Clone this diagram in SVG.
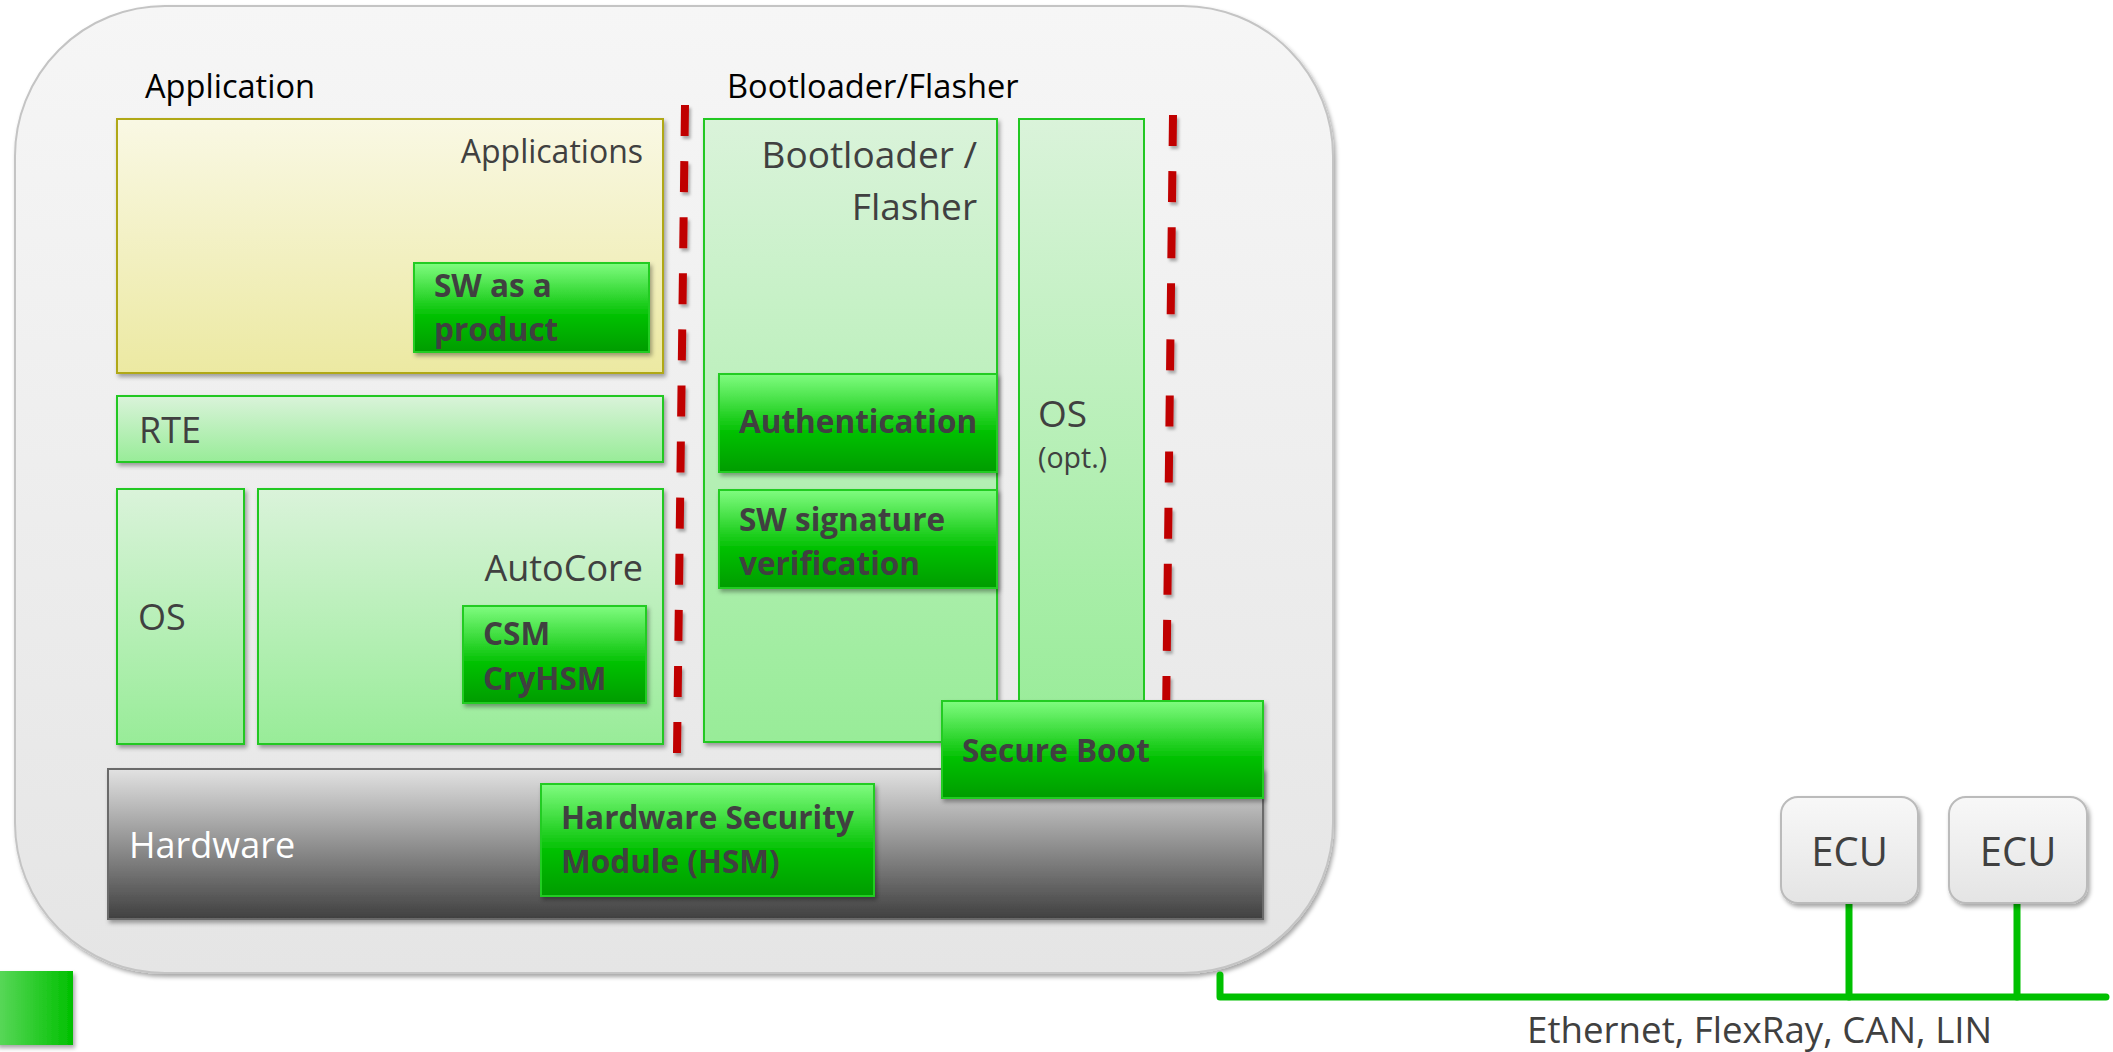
<svg xmlns="http://www.w3.org/2000/svg" width="2113" height="1052" viewBox="0 0 2113 1052">
<style>
text{font-family:"Open Sans","Noto Sans","Liberation Sans",sans-serif;fill:#404040}
.lbl{font-size:32.6px;fill:#000}
.reg32{font-size:32px}
.reg36{font-size:36px}
.reg37{font-size:37px}
.b{font-size:31.5px;font-weight:bold}
.lg{fill:url(#lightGreen);stroke:#22c822;stroke-width:2}
.bg{fill:url(#brightGreen);stroke:#22cc22;stroke-width:2;filter:url(#sh)}
.sep{stroke:#c00000;stroke-width:8;stroke-dasharray:31 25.1;fill:none;filter:url(#shs)}
.bus{stroke:#00c000;stroke-width:7;fill:none;stroke-linecap:round;stroke-linejoin:round}
.ecu{fill:url(#ecuGrad);stroke:#bbbbbb;stroke-width:2;filter:url(#sh)}
</style>
<defs>
<linearGradient id="outerGrad" x1="0" y1="0" x2="0" y2="1"><stop offset="0" stop-color="#f6f6f6"/><stop offset="1" stop-color="#e5e5e5"/></linearGradient>
<linearGradient id="yellowGrad" x1="0" y1="0" x2="0" y2="1"><stop offset="0" stop-color="#f9f8e4"/><stop offset="1" stop-color="#ece9a2"/></linearGradient>
<linearGradient id="lightGreen" x1="0" y1="0" x2="0" y2="1"><stop offset="0" stop-color="#daf3da"/><stop offset="1" stop-color="#98ec98"/></linearGradient>
<linearGradient id="brightGreen" x1="0" y1="0" x2="0" y2="1"><stop offset="0" stop-color="#80fc80"/><stop offset="0.6" stop-color="#00c000"/><stop offset="1" stop-color="#009c00"/></linearGradient>
<linearGradient id="hwGrad" x1="0" y1="0" x2="0" y2="1"><stop offset="0" stop-color="#e2e2e2"/><stop offset="1" stop-color="#404040"/></linearGradient>
<linearGradient id="ecuGrad" x1="0" y1="0" x2="0" y2="1"><stop offset="0" stop-color="#f8f8f8"/><stop offset="1" stop-color="#e4e4e4"/></linearGradient>
<linearGradient id="legendGrad" x1="0" y1="0" x2="1" y2="0"><stop offset="0" stop-color="#5cd85c"/><stop offset="1" stop-color="#00c000"/></linearGradient>
<filter id="sh" x="-10%" y="-10%" width="130%" height="130%"><feDropShadow dx="2" dy="3" stdDeviation="2" flood-color="#000" flood-opacity="0.35"/></filter>
<filter id="shs" x="-50%" y="-10%" width="300%" height="130%"><feDropShadow dx="2" dy="3" stdDeviation="1.5" flood-color="#000" flood-opacity="0.3"/></filter>
</defs>

<g id="ecu-main">
<rect x="15" y="6" width="1318" height="967" rx="150" ry="150" fill="url(#outerGrad)" stroke="#c4c4c4" stroke-width="2" filter="url(#sh)"/>
</g>

<text class="lbl" x="145" y="98">Application</text>
<text class="lbl" x="727" y="98">Bootloader/Flasher</text>

<g id="applications">
<rect x="117" y="119" width="546" height="254" fill="url(#yellowGrad)" stroke="#b0a818" stroke-width="2" filter="url(#sh)"/>
<text class="reg32" x="643" y="163" text-anchor="end">Applications</text>
</g>
<g id="sw-product">
<rect class="bg" x="414" y="263" width="235" height="89"/>
<text class="b" x="434" y="297">SW as a</text>
<text class="b" x="434" y="341">product</text>
</g>
<g id="rte">
<rect class="lg" x="117" y="396" width="546" height="66" filter="url(#sh)"/>
<text class="reg36" x="139" y="443">RTE</text>
</g>
<g id="os-app">
<rect class="lg" x="117" y="489" width="127" height="255" filter="url(#sh)"/>
<text class="reg36" x="138" y="630">OS</text>
</g>
<g id="autocore">
<rect class="lg" x="258" y="489" width="405" height="255" filter="url(#sh)"/>
<text class="reg36" x="643" y="581" text-anchor="end">AutoCore</text>
</g>
<g id="csm">
<rect class="bg" x="463" y="606" width="183" height="97"/>
<text class="b" x="483" y="645">CSM</text>
<text class="b" x="483" y="690">CryHSM</text>
</g>

<g id="separators">
<line class="sep" x1="685" y1="105" x2="677" y2="753"/>
<line class="sep" x1="1173" y1="115" x2="1166" y2="720"/>
</g>

<g id="bootloader">
<rect class="lg" x="704" y="119" width="293" height="623" filter="url(#sh)"/>
<text class="reg37" x="977" y="168" text-anchor="end">Bootloader /</text>
<text class="reg37" x="977" y="220" text-anchor="end">Flasher</text>
</g>
<g id="os-opt">
<rect class="lg" x="1019" y="119" width="125" height="610"/>
<text class="reg37" x="1038" y="427">OS</text>
<text x="1038" y="468" style="font-size:28.5px">(opt.)</text>
</g>
<g id="authentication">
<rect class="bg" x="719" y="374" width="278" height="98"/>
<text class="b" x="739" y="433">Authentication</text>
</g>
<g id="sw-signature">
<rect class="bg" x="719" y="490" width="278" height="98"/>
<text class="b" x="739" y="531">SW signature</text>
<text class="b" x="739" y="575">verification</text>
</g>

<g id="hardware">
<rect x="108" y="769" width="1155" height="150" fill="url(#hwGrad)" stroke="#6a6a6a" stroke-width="2" filter="url(#sh)"/>
<text class="reg36" x="129" y="858" style="fill:#fff">Hardware</text>
</g>
<g id="hsm">
<rect class="bg" x="541" y="784" width="333" height="112"/>
<text class="b" x="561" y="829">Hardware Security</text>
<text class="b" x="561" y="873">Module (HSM)</text>
</g>
<g id="secure-boot">
<rect class="bg" x="942" y="701" width="321" height="97"/>
<text class="b" x="962" y="762">Secure Boot</text>
</g>

<g id="legend">
<rect x="-4" y="971" width="77" height="74" fill="url(#legendGrad)" filter="url(#sh)"/>
</g>

<g id="connectors">
<path class="bus" d="M1220 975 V997 H2106"/>
<path class="bus" d="M1849 903 V997"/>
<path class="bus" d="M2017 903 V997"/>
</g>

<g id="ecu1">
<rect class="ecu" x="1781" y="797" width="137" height="106" rx="17" ry="17"/>
<text x="1849.5" y="866" text-anchor="middle" style="font-size:40px">ECU</text>
</g>
<g id="ecu2">
<rect class="ecu" x="1949" y="797" width="138" height="106" rx="17" ry="17"/>
<text x="2018" y="866" text-anchor="middle" style="font-size:40px">ECU</text>
</g>

<text x="1527" y="1043" style="font-size:36.7px">Ethernet, FlexRay, CAN, LIN</text>
</svg>
